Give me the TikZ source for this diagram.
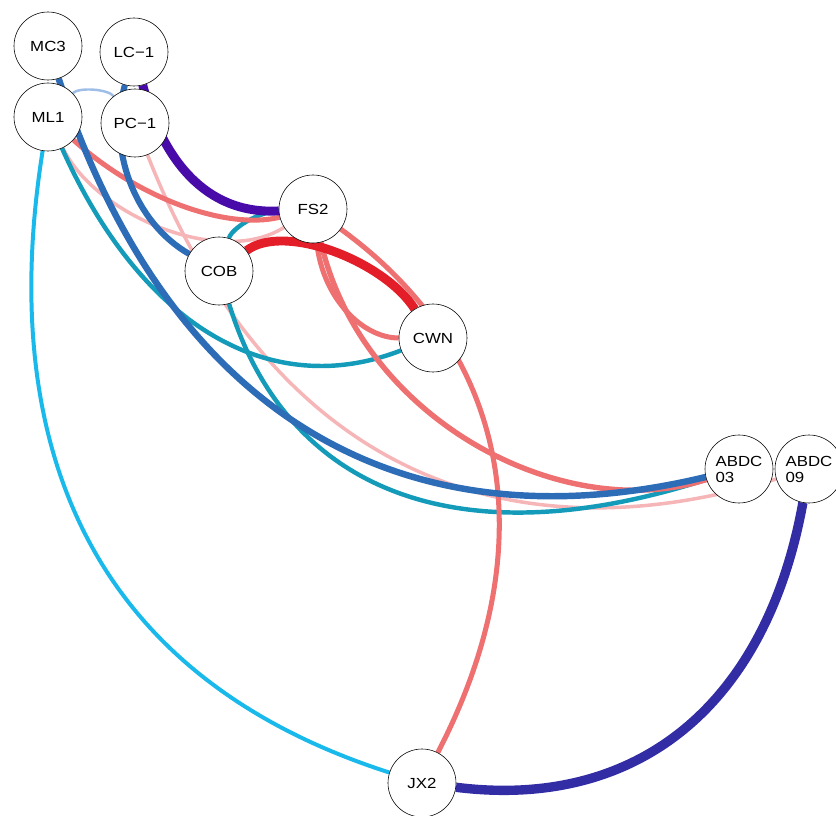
\documentclass[tikz,border=0pt]{standalone}
\usepackage{fontspec}
\setmainfont{Liberation Sans}[FakeStretch=1.15]
\usetikzlibrary{backgrounds}

\definecolor{eblue}{RGB}{45,108,182}
\definecolor{lblue}{RGB}{158,190,232}
\definecolor{epurple}{RGB}{72,10,168}
\definecolor{enavy}{RGB}{50,45,165}
\definecolor{ered}{RGB}{228,30,40}
\definecolor{salmon}{RGB}{238,112,112}
\definecolor{lpink}{RGB}{246,182,184}
\definecolor{eteal}{RGB}{20,155,185}
\definecolor{ecyan}{RGB}{25,185,235}

\begin{document}
\begin{tikzpicture}[x=0.03cm, y=-0.03cm,
  vert/.style={circle, draw, line width=0.5pt, fill=white, minimum size=2.04cm,
    inner sep=0pt, align=left, font=\fontsize{12.5}{13.6}\selectfont},
  link/.style={line cap=butt}]
  \useasboundingbox (0,0) rectangle (836,816);

  \node[vert] (mc3) at (48,46) {MC3};
  \node[vert] (lc1) at (134,52) {LC−1};
  \node[vert] (ml1) at (48,117) {ML1};
  \node[vert] (pc1) at (135,123) {PC−1};
  \node[vert] (fs2) at (313,209) {FS2};
  \node[vert] (cob) at (219,271) {COB};
  \node[vert] (cwn) at (433,338) {CWN};
  \node[vert] (abdc03) at (739,469) {ABDC\\03};
  \node[vert] (abdc09) at (809,469) {ABDC\\09};
  \node[vert] (jx2) at (422,783) {JX2};

  \begin{scope}[on background layer]
    \draw[link, draw=lblue, line width=2.1pt] (ml1) .. controls (79,87) and (108,89) .. (pc1);
    \draw[link, draw=lpink, line width=3pt] (pc1) .. controls (264,452) and (488,567) .. (abdc09);
    \draw[link, draw=lpink, line width=3pt] (ml1) .. controls (95,215) and (220,268) .. (fs2);
    \draw[link, draw=ecyan, line width=3.4pt] (ml1) .. controls (0,420) and (70,670) .. (jx2);
    \draw[link, draw=eteal, line width=3.8pt] (ml1) .. controls (142,327) and (271,401) .. (cwn);
    \draw[link, draw=eteal, line width=3.8pt] (cob) .. controls (287,493) and (460,559) .. (abdc03);
    \draw[link, draw=eteal, line width=3.8pt] (cob) .. controls (232,228) and (258,212) .. (fs2);
    \draw[link, draw=salmon, line width=4.3pt] (ml1) .. controls (140,200) and (228,230) .. (fs2);
    \draw[link, draw=salmon, line width=4.3pt] (fs2) .. controls (323,299) and (363,338) .. (cwn);
    \draw[link, draw=salmon, line width=4.6pt] (fs2) .. controls (363,422) and (565,525) .. (abdc03);
    \draw[link, draw=salmon, line width=4.3pt] (fs2) .. controls (510,352) and (546,544) .. (jx2);
    \draw[link, draw=eblue, line width=5.5pt] (mc3) .. controls (167,410) and (397,551) .. (abdc03);
    \draw[link, draw=eblue, line width=5.2pt] (lc1) .. controls (107,150) and (135,223) .. (cob);
    \draw[link, draw=ered, line width=7.6pt] (cob) .. controls (285,222) and (385,262) .. (cwn);
    \draw[link, draw=epurple, line width=7.6pt] (lc1) .. controls (162,158) and (205,215) .. (fs2);
    \draw[link, draw=enavy, line width=8pt] (jx2) .. controls (637,810) and (766,706) .. (abdc09);
  \end{scope}
\end{tikzpicture}
\end{document}
